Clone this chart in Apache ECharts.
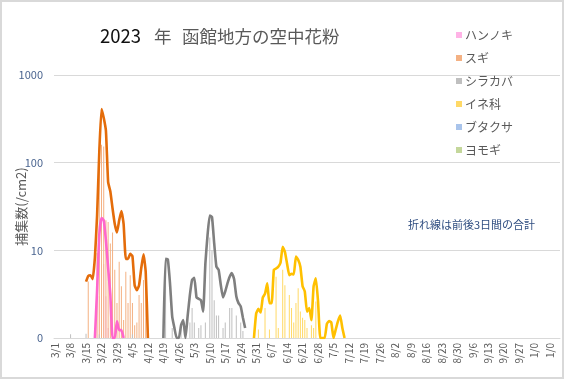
<!DOCTYPE html>
<html>
<head>
<meta charset="utf-8">
<script src="https://cdn.jsdelivr.net/npm/echarts@6/dist/echarts.min.js"></script>
<style>
html,body{margin:0;padding:0;background:#fff;}
#chart{position:absolute;left:0;top:0;width:567px;height:379px;}
#frame{position:absolute;left:0;top:0;width:564px;height:379px;box-sizing:border-box;border:2px solid #d9d9d9;pointer-events:none;}
</style>
</head>
<body>
<div id="chart"></div>
<div id="frame"></div>
<script>
// ---- categories (daily, 3/1 .. 9/30, then empty rows shown as 1/0) ----
const monthNums = [3, 4, 5, 6, 7, 8, 9];
const monthDays = [31, 30, 31, 30, 31, 31, 30];
const emptyLabel = '1/0';
const emptyCount = 15;

// ---- series names ----
const speciesNames = ['ハンノキ', 'スギ', 'シラカバ', 'イネ科', 'ブタクサ', 'ヨモギ'];

// ---- daily counts (bars); each list starts at the given day index (0 = 3/1) ----
const hannokiBarStart = 20;
const hannokiBars = [3, 8, 7, 3, 1.3];
const sugiBarStart = 15;
const sugiBars = [4.4, null, null, null, 9.3, 150, 160, 153, 22, 21, 12, 16, 6, 2.5, 7.4, 3.9, 1.6, 5.7, 2.5, 5.2, 2.5, 1.4, 1.5, 3.1, 2.5, 4.6, 4.8];
const shirakabaBarStart = 7;
const shirakabaBars = [1.1, null, null, null, null, null, null, 1.12, null, null, null, null, null, 1.1,
  null, null, null, null, null, null, null, null, null, null, null, null, null, null, 1.1,
  null, null, null, null, null, null, null, null, null, null, null, null, null, null,
  7.5, null, null, 1.3, null, null, null, 1.3, null, null, null, 1.5, 2.2, 1.5, null, 1.3, 1.4, null,
  1.5, null, 14, 10, 2.7, 1.8, 1.8, null, 1.3, 1.5, null, 2.2, 2.2, null, 1.8, null, 1.5, 1.2];
const ineBarStart = 92;
const ineBars = [1.25, null, null, 2.2, null, 1.25, null, null, 5.0, 1.3, null, 6.0, 4.0, null, 3.1, 2.2, 1.5, 2.5, 3.7, 2.0, 1.7, 1.6, 1.3, null, 1.4, 1.3, 2.6, null, 1.1];
const butakusaBarStart = 0;
const butakusaBars = [];
const yomogiBarStart = 0;
const yomogiBars = [];

// ---- 3-day totals (lines) ----
const hannokiLineStart = 18;
const hannokiLine = [1, 3.5, 15, 23.4, 22, 13, 6.3, 3.1, 1, 1, 1.55, 1.23, 1.23, 1];
const sugiLineStart = 14;
const sugiLine = [4.4, 5.1, 5.2, 4.7, 8.2, 25, 133, 410, 325, 231, 60, 47, 30, 20, 16, 22, 28, 20, 8, 8, 9.1, 8.6, 4.0, 3.5, 4.0, 6.3, 9, 5.7, 1];
const shirakabaLineStart = 49;
const shirakabaLine = [1, 8.0, 7.9, 4.2, 1.75, 1.3, 1, 1, 1.4, 1.6, 1, 1.8, 3.1, 4.6, 4.85, 2.9, 2.8, 2.7, 2.0, 7.0, 15, 25, 24, 12, 6.5, 6.0, 4.0, 2.9, 3.4, 4.2, 5.0, 5.5, 4.7, 3.0, 2.5, 2.3, 1.7, 1.3];
const ineLineStart = 90;
const ineLine = [1, 1.9, 2.15, 1.95, 2.9, 3.2, 4.2, 2.5, 2.5, 6.0, 6.2, 6.5, 7.2, 11, 9.6, 7.0, 5.2, 5.4, 5.3, 8.5, 7.8, 6.5, 3.9, 3.4, 2.0, 2.2, 1.6, 3.9, 4.8, 2.6, 1, 1, 1, 1.45, 1.56, 1.5, 1, 1.25, 1.55, 1.8, 1.3, 1];

// ---- y tick labels ----
const yTickValues = [1, 10, 100, 1000];
const yTickLabels = ['0', '10', '100', '1000'];

// ---- colours ----
const barColors = ['#ffb3e6', '#f4b183', '#bfbfbf', '#ffd966', '#a9c4eb', '#c4d79b'];
const lineColors = ['#ff66cc', '#e46c0a', '#7f7f7f', '#ffc000'];

// build categories
const categories = [];
monthNums.forEach(function (m, k) {
  for (let d = 1; d <= monthDays[k]; d++) categories.push(m + '/' + d);
});
for (let k = 0; k < emptyCount; k++) categories.push(emptyLabel);
const N = categories.length;

function pad(start, arr) {
  const out = new Array(N).fill(null);
  arr.forEach(function (v, k) { out[start + k] = v; });
  return out;
}

const barSets = [
  [hannokiBarStart, hannokiBars], [sugiBarStart, sugiBars], [shirakabaBarStart, shirakabaBars],
  [ineBarStart, ineBars], [butakusaBarStart, butakusaBars], [yomogiBarStart, yomogiBars]
];
const lineSets = [
  [hannokiLineStart, hannokiLine], [sugiLineStart, sugiLine],
  [shirakabaLineStart, shirakabaLine], [ineLineStart, ineLine]
];

const FONT = "'Noto Sans CJK JP', sans-serif";
const series = [];
barSets.forEach(function (s, k) {
  series.push({
    name: speciesNames[k], type: 'bar', barWidth: 1, barGap: '-100%',
    itemStyle: { color: barColors[k] }, data: pad(s[0], s[1])
  });
});
lineSets.forEach(function (s, k) {
  series.push({
    name: speciesNames[k] + '（3日計）', type: 'line', showSymbol: false, smooth: 0.15,
    connectNulls: false, lineStyle: { width: 2.6, color: lineColors[k] },
    itemStyle: { color: lineColors[k] }, data: pad(s[0], s[1]), z: 3
  });
});

const chart = echarts.init(document.getElementById('chart'), null, { renderer: 'canvas' });
chart.setOption({
  animation: false,
  backgroundColor: '#fff',
  textStyle: { fontFamily: FONT },
  grid: { left: 54, right: 7, top: 75, bottom: 41, containLabel: false, outerBoundsMode: 'none' },
  legend: {
    data: speciesNames, orient: 'vertical', left: 451, top: 24,
    icon: 'rect', itemWidth: 6, itemHeight: 6, itemGap: 11,
    textStyle: { color: '#595959', fontSize: 12, fontFamily: FONT, padding: [0, 0, 0, -2] }
  },
  graphic: [
    { type: 'text', x: 100, y: 36, style: { text: '2023', font: "18.5px 'Noto Sans CJK JP'", fill: '#111', verticalAlign: 'middle' } },
    { type: 'text', x: 154, y: 36, style: { text: '年', font: "17.5px 'Noto Sans CJK JP'", fill: '#595959', verticalAlign: 'middle' } },
    { type: 'text', x: 182, y: 36, style: { text: '函館地方の空中花粉', font: "17.5px 'Noto Sans CJK JP'", fill: '#595959', verticalAlign: 'middle' } },
    { type: 'text', x: 408, y: 225, style: { text: '折れ線は前後3日間の合計', font: "11px 'Noto Sans CJK JP'", fill: '#2f4d80', verticalAlign: 'middle' } }
  ],
  xAxis: {
    type: 'category', data: categories, boundaryGap: true,
    axisLine: { lineStyle: { color: '#d9d9d9', width: 1 } },
    axisTick: { interval: 6, length: 4, lineStyle: { color: '#d9d9d9' } },
    axisLabel: { interval: 6, rotate: 90, fontSize: 10, color: '#595959', margin: 5, fontFamily: FONT },
    splitLine: { show: false }
  },
  yAxis: {
    type: 'log', logBase: 10, min: 1, max: 1000,
    axisLine: { show: false }, axisTick: { show: false },
    splitLine: { lineStyle: { color: '#d9d9d9', width: 1 } },
    axisLabel: {
      fontSize: 11, color: '#4b6590', margin: 11, fontFamily: FONT,
      formatter: function (v) {
        const r = Math.round(v);
        const k = yTickValues.indexOf(r);
        return k >= 0 ? yTickLabels[k] : '';
      }
    },
    name: '捕集数(/cm2)', nameLocation: 'middle', nameGap: 26, nameRotate: 90, nameMoveOverlap: false,
    nameTextStyle: { color: '#595959', fontSize: 13, fontFamily: FONT }
  },
  series: series
});
</script>
</body>
</html>
